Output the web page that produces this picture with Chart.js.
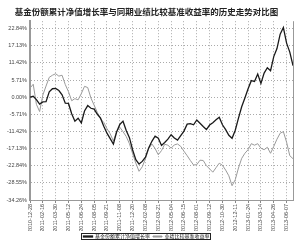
<!DOCTYPE html>
<html><head><meta charset="utf-8">
<script src="https://cdn.jsdelivr.net/npm/chart.js@4/dist/chart.umd.min.js"></script>
<style>html,body{margin:0;padding:0;background:#fff}#wrap{width:300px;height:243px}</style>
</head><body><div id="wrap"><canvas id="c" width="300" height="243"></canvas></div>
<script>
const chartTitle = '基金份额累计净值增长率与同期业绩比较基准收益率的历史走势对比图';
const seriesNames = ['基金份额累计净值增长率', '业绩比较基准收益率'];
const dateLabels = ['2010-12-28','2011-02-16','2011-03-30','2011-05-12','2011-06-24','2011-08-05','2011-09-21','2011-11-08','2011-12-20','2012-02-08','2012-03-21','2012-05-04','2012-06-15','2012-08-01','2012-09-12','2012-10-30','2012-12-11','2013-01-24','2013-03-14','2013-04-26','2013-06-07'];
const yTicks = [22.84, 17.13, 11.42, 5.71, 0, -5.71, -11.42, -17.13, -22.84, -28.55, -34.26];
const fundValues = [0,0.3,-0.8,-2.3,-1.6,-1.5,1.8,2.8,2.9,2.2,0.8,-2,-2.1,-5.5,-8,-7,-8.6,-4.6,-2.8,-3.7,-4,-5.7,-7,-9.7,-12,-13.8,-15.6,-11.6,-9.1,-8,-11.1,-13.5,-17.6,-20.8,-22.3,-21.4,-20,-16.9,-14.7,-13,-13.7,-16.1,-15.1,-14,-12.5,-13.6,-14.3,-12.8,-11.3,-9,-8.8,-9.2,-7.6,-8.7,-9.8,-10.8,-9.3,-8.5,-7.5,-6.7,-9.2,-10.8,-12.7,-13.7,-11,-7,-3.2,-0.3,2.8,5.5,5.2,7.7,4.6,8,9.8,8.8,13.5,16.2,21,23.2,18,15,10.5];
const benchValues = [3,4.3,-2.4,-4.8,0.7,3.7,6.6,7.3,7.8,7,7.3,4.2,1.8,-1.2,-0.5,-0.9,1.2,3.6,3.2,-0.3,-2.7,-5.1,-7.3,-8.4,-10.5,-12.2,-14.6,-11.5,-10,-11.5,-13.1,-15.5,-18.8,-22,-24.7,-23.2,-20.5,-17.2,-15.6,-17.1,-19.2,-17.8,-15.7,-16,-17,-15.9,-15.6,-16.4,-18,-19.5,-21.1,-22.6,-22.5,-21,-21.1,-22.8,-23.9,-25,-23.5,-22,-22.7,-24.3,-26.2,-29.5,-27.5,-23.6,-20.4,-18.7,-17.5,-15.5,-16,-15.5,-17,-17.5,-16.7,-18.7,-16.4,-14,-12,-11.5,-15,-19.5,-20.5];
const TICK_EVERY = 4;

Chart.defaults.font.family = "'Liberation Sans','Noto Sans CJK SC',sans-serif";

const frame = {
  id: 'frame',
  afterDraw(chart) {
    const ctx = chart.ctx, a = chart.chartArea;
    ctx.save();
    ctx.strokeStyle = '#999';
    ctx.lineWidth = 1;
    ctx.beginPath();
    ctx.moveTo(Math.round(a.right) + 0.5, a.top);
    ctx.lineTo(Math.round(a.right) + 0.5, a.bottom);
    ctx.stroke();
    const hb = chart.legend.legendHitBoxes;
    if (hb && hb.length) {
      let l = Infinity, r = -Infinity, t = Infinity, b = -Infinity;
      hb.forEach(h => { l = Math.min(l, h.left); r = Math.max(r, h.left + h.width); t = Math.min(t, h.top); b = Math.max(b, h.top + h.height); });
      ctx.strokeStyle = '#222';
      ctx.strokeRect(Math.round(l) - 1.5, Math.round(t) - 0.5, Math.round(r - l) + 3, Math.round(b - t) + 1);
    }
    ctx.restore();
  }
};

new Chart(document.getElementById('c'), {
  type: 'line',
  data: {
    datasets: [
      { label: seriesNames[0], data: fundValues.map((v, i) => ({x: i, y: v})), borderColor: '#1a1a1a', backgroundColor: '#1a1a1a', borderWidth: 1.3, pointRadius: 0, tension: 0 },
      { label: seriesNames[1], data: benchValues.map((v, i) => ({x: i, y: v})), borderColor: '#9a9a9a', backgroundColor: '#9a9a9a', borderWidth: 1, pointRadius: 0, tension: 0 }
    ]
  },
  options: {
    responsive: false,
    animation: false,
    devicePixelRatio: 1,
    layout: { padding: { left: 0, right: 7, top: 0, bottom: 0 } },
    plugins: {
      title: { display: true, text: chartTitle, color: '#222', font: { size: 8.5, weight: 'bold', family: "'Noto Sans CJK SC',sans-serif" }, padding: { top: 7, bottom: 4 } },
      legend: { position: 'bottom', maxHeight: 12, labels: { font: { size: 5, family: "'Noto Sans CJK SC',sans-serif" }, color: '#222', boxWidth: 9, boxHeight: 1, padding: 3 } },
      tooltip: { enabled: false }
    },
    scales: {
      x: {
        type: 'linear', min: 0, max: fundValues.length - 1,
        afterBuildTicks: s => { s.ticks = dateLabels.map((d, k) => ({ value: k * TICK_EVERY })); },
        afterFit: s => { s.height = 31; },
        ticks: { autoSkip: false, minRotation: 90, maxRotation: 90, padding: 1, color: '#444', font: { size: 5.5 }, callback: (v, i) => dateLabels[i] },
        grid: { color: '#aaa', tickLength: 3, tickColor: '#888' },
        border: { color: '#999', width: 1, dash: [1, 2] }
      },
      y: {
        min: -34.26, max: 25.3,
        afterBuildTicks: s => { s.ticks = yTicks.map(v => ({ value: v })); },
        afterFit: s => { s.width = 30; },
        ticks: { padding: 3, color: '#444', font: { size: 5.5 }, callback: v => v.toFixed(2) + '%' },
        grid: { color: '#aaa', tickLength: 0, drawTicks: false },
        border: { color: '#999', width: 2, dash: [1, 2] }
      }
    }
  },
  plugins: [frame]
});
</script></body></html>
